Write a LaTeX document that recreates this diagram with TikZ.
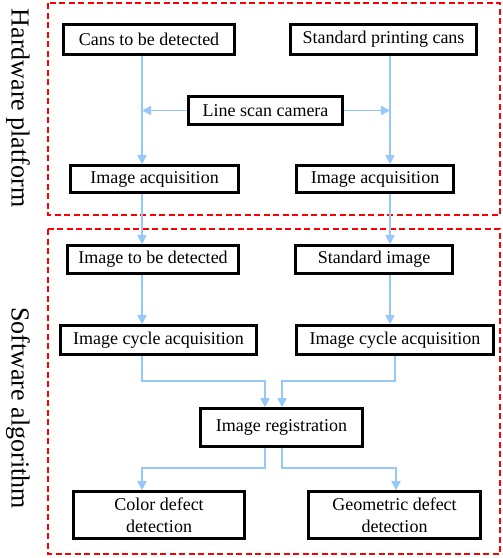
\documentclass[tikz,border=0pt]{standalone}
\usepackage{fontspec}
\setmainfont{Liberation Serif}
\usetikzlibrary{arrows.meta}
\definecolor{flowblue}{RGB}{150,200,250}
\definecolor{frame}{RGB}{255,0,0}
\tikzset{
  stepbox/.style={draw=black, line width=2.6pt, fill=white, inner sep=0pt, font=\fontsize{18}{21.6}\selectfont, align=center},
  flow/.style={draw=flowblue, line width=1.5pt},
  flowarrow/.style={flow, -{Triangle[length=9pt,width=9pt]}},
  group/.style={draw=frame, line width=1.8pt, dash pattern=on 6pt off 3.5pt},
  sidelabel/.style={rotate=-90, font=\fontsize{26}{30}\selectfont, inner sep=0pt}
}
\begin{document}
\begin{tikzpicture}[x=1pt,y=-1pt]
\useasboundingbox (0,0) rectangle (503,558);
% group frames
\draw[group] (48,3) rectangle (500,215);
\draw[group] (48,229) rectangle (500,554);
\node[sidelabel] (hw) at (18,108) {Hardware platform};
\node[sidelabel] (sw) at (18,408) {Software algorithm};
% lane coordinates
\coordinate (xL) at (142,0);
\coordinate (xR) at (390,0);
\coordinate (xR2) at (395,0);
\coordinate (ja) at (265,381);
\coordinate (jb) at (282,381);
\coordinate (jc) at (142,468);
\coordinate (jd) at (396,468);
% boxes
\node[stepbox, minimum width=171pt, minimum height=30pt] (cans) at (149,39.5) {Cans to be detected};
\node[stepbox, minimum width=186pt, minimum height=30pt] (std) at (383.5,39.5) {Standard printing cans};
\node[stepbox, minimum width=154pt, minimum height=28pt] (cam) at (265.5,110.5) {Line scan camera};
\node[stepbox, minimum width=168pt, minimum height=27pt] (acqL) at (154.5,179) {Image acquisition};
\node[stepbox, minimum width=157pt, minimum height=27pt] (acqR) at (375,179) {Image acquisition};
\node[stepbox, minimum width=171pt, minimum height=28pt] (detL) at (153,259.5) {Image to be detected};
\node[stepbox, minimum width=157pt, minimum height=28pt] (stdI) at (374,259.5) {Standard image};
\node[stepbox, minimum width=196pt, minimum height=29pt] (cycL) at (158.5,340) {Image cycle acquisition};
\node[stepbox, minimum width=197pt, minimum height=29pt] (cycR) at (395,340) {Image cycle acquisition};
\node[stepbox, minimum width=162pt, minimum height=38pt] (reg) at (281.5,427.5) {Image registration};
\node[stepbox, minimum width=171pt, minimum height=47pt] (col) at (159,515) {Color defect\\detection};
\node[stepbox, minimum width=172pt, minimum height=47pt] (geo) at (394.5,515) {Geometric defect\\detection};
% connectors
\draw[flowarrow] (cans.south -| xL) -- (acqL.north -| xL);
\draw[flowarrow] (std.south -| xR) -- (acqR.north -| xR);
\draw[flowarrow] (cam.west) -- (cam.west -| xL);
\draw[flowarrow] (cam.east) -- (cam.east -| xR);
\draw[flowarrow] (acqL.south -| xL) -- (detL.north -| xL);
\draw[flowarrow] (acqR.south -| xR) -- (stdI.north -| xR);
\draw[flowarrow] (detL.south -| xL) -- (cycL.north -| xL);
\draw[flowarrow] (stdI.south -| xR) -- (cycR.north -| xR);
\draw[flowarrow] (cycL.south -| xL) |- (ja) -- (ja |- reg.north);
\draw[flowarrow] (cycR.south -| xR2) |- (jb) -- (jb |- reg.north);
\draw[flowarrow] (reg.south -| ja) |- (jc) -- (col.north -| jc);
\draw[flowarrow] (reg.south -| jb) |- (jd) -- (geo.north -| jd);
\end{tikzpicture}
\end{document}
